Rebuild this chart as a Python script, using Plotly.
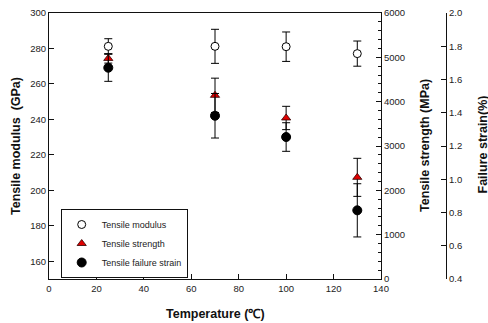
import plotly.graph_objects as go

temperature = [25, 70, 100, 130]
modulus = [281.2, 281.2, 281.0, 277.1]
modulus_err = [4.3, 9.6, 8.3, 7.1]
strength = [4975, 4143, 3632, 2293]
strength_err = [105, 387, 263, 429]
strain = [1.671, 1.382, 1.254, 0.813]
strain_err = [0.082, 0.134, 0.086, 0.160]

FONT = "Liberation Sans, Arial, sans-serif"
W, H = 488, 323
ML, MR, MT, MB = 49, 0, 13, 44
PW = W - ML - MR
PH = H - MT - MB

def px_x(px):
    return (px - ML) / PW

def px_y(py):
    return 1 - (py - MT) / PH

eb = dict(type="data", color="black", thickness=1, width=4)

fig = go.Figure()
fig.add_trace(go.Scatter(
    x=temperature, y=modulus, mode="markers", name="Tensile modulus",
    marker=dict(symbol="circle", size=8, color="white", line=dict(color="black", width=1)),
    error_y=dict(array=modulus_err, **eb), yaxis="y", cliponaxis=False))
fig.add_trace(go.Scatter(
    x=temperature, y=strength, mode="markers", name="Tensile strength",
    marker=dict(symbol="triangle-up", size=8, color="#e00000", line=dict(color="#300000", width=0.8)),
    error_y=dict(array=strength_err, **eb), yaxis="y2", cliponaxis=False))
fig.add_trace(go.Scatter(
    x=temperature, y=strain, mode="markers", name="Tensile failure strain",
    marker=dict(symbol="circle", size=9, color="black", line=dict(color="black", width=1)),
    error_y=dict(array=strain_err, **eb), yaxis="y3", cliponaxis=False))

tickfont = dict(family=FONT, size=9.5, color="#222")
common = dict(showgrid=False, zeroline=False, showline=True, linecolor="#111", linewidth=1.2,
              ticks="inside", ticklen=5, tickcolor="#111", tickwidth=1, tickfont=tickfont)

x_right = 381
fig.update_layout(
    width=W, height=H, margin=dict(l=ML, r=MR, t=MT, b=MB, autoexpand=False),
    paper_bgcolor="white", plot_bgcolor="white",
    font=dict(family=FONT, color="#111"),
    xaxis=dict(domain=[0, px_x(x_right)], range=[0, 140], dtick=20, tick0=0, mirror=True, **common),
    yaxis=dict(range=[150, 300], tick0=160, dtick=20, **common),
    yaxis2=dict(range=[0, 6000], dtick=1000, overlaying="y", side="right", anchor="x",
                minor=dict(dtick=200, ticks="inside", ticklen=3, tickcolor="#111"), **common),
    yaxis3=dict(range=[0.4, 2.0], dtick=0.2, tick0=0.4, tickformat=".1f", overlaying="y", side="right",
                anchor="free", position=px_x(446), **common),
    showlegend=True,
    legend=dict(x=px_x(60.7), y=px_y(209), xanchor="left", yanchor="top",
                bordercolor="#111", borderwidth=1, bgcolor="white",
                font=dict(family=FONT, size=9, color="#222"), tracegroupgap=0),
)

ann = [
    dict(text="<b>Tensile modulus  (GPa)</b>", x=px_x(16), y=px_y(146), textangle=-90),
    dict(text="<b>Temperature (℃)</b>", x=px_x(215), y=px_y(314), textangle=0),
    dict(text="<b>Tensile strength (MPa)</b>", x=px_x(425), y=px_y(146), textangle=-90),
    dict(text="<b>Failure strain(%)</b>", x=px_x(482.5), y=px_y(145), textangle=-90),
]
for a in ann:
    fig.add_annotation(xref="paper", yref="paper", showarrow=False, xanchor="center", yanchor="middle",
                       font=dict(family=FONT, size=12.5, color="#111"), **a)

fig.write_html("out.html", config={"displayModeBar": False},
               post_script="document.body.style.margin='0';document.body.style.overflow='hidden';")
